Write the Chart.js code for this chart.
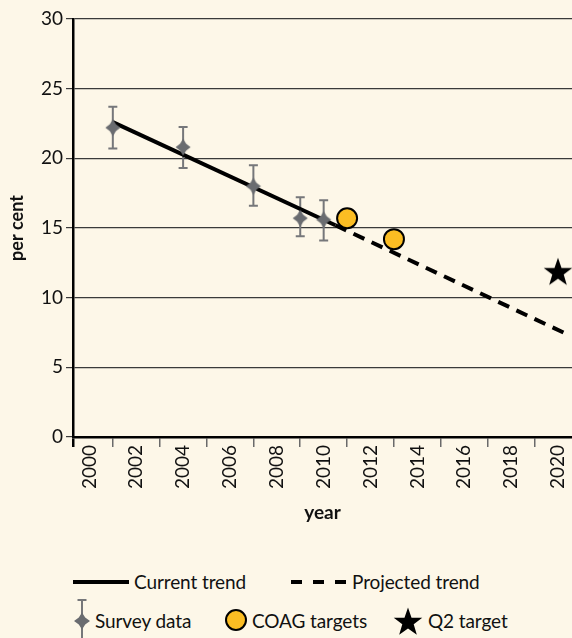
<!DOCTYPE html>
<html>
<head>
<meta charset="utf-8">
<script src="https://cdn.jsdelivr.net/npm/chart.js@4.4.0/dist/chart.umd.min.js"></script>
<style>
  body { margin: 0; background: #fdf7e8; font-family: Lato, Roboto, sans-serif; }
  #wrap { position: relative; width: 572px; height: 638px; overflow: hidden; }
  #chartBox { position: absolute; left: 0; top: 0; width: 572px; height: 540px; }
  .lg { position: absolute; font-size: 19px; line-height: 24px; color: #111; white-space: nowrap; letter-spacing: -0.1px; }
  .ic { position: absolute; overflow: visible; }
</style>
</head>
<body>
<div id="wrap">
  <div id="chartBox"><canvas id="chart"></canvas></div>

  <!-- legend -->
  <div class="ic" style="left:73px; top:580px; width:56px; height:4px; background:#000;"></div>
  <span class="lg" style="left:134px; top:570px;">Current trend</span>
  <svg class="ic" style="left:291px; top:577px;" width="57" height="10">
    <line x1="0" y1="5" x2="56" y2="5" stroke="#000" stroke-width="4" stroke-dasharray="11 11"/>
  </svg>
  <span class="lg" style="left:352px; top:570px;">Projected trend</span>

  <svg class="ic" style="left:72px; top:598px;" width="20" height="40" id="legendSurvey"></svg>
  <span class="lg" style="left:95px; top:609px;">Survey data</span>
  <svg class="ic" style="left:224px; top:608px;" width="24" height="24">
    <circle cx="12" cy="12" r="10" fill="#fbbd23" stroke="#000" stroke-width="2"/>
  </svg>
  <span class="lg" style="left:252px; top:609px;">COAG targets</span>
  <svg class="ic" style="left:393px; top:606px;" width="30" height="30" id="legendStar"></svg>
  <span class="lg" style="left:428px; top:609px;">Q2 target</span>
</div>

<script>
// AXES
const years = [2000, 2001, 2002, 2003, 2004, 2005, 2006, 2007, 2008, 2009, 2010,
               2011, 2012, 2013, 2014, 2015, 2016, 2017, 2018, 2019, 2020];
const xMin = 1999.3, xMax = 2020.6;
const yTicks = [0, 5, 10, 15, 20, 25, 30];

// SURVEY DATA (with error bars)
const surveyYears = [2001, 2004, 2007, 2009, 2010];
const surveyValues = [22.2, 20.8, 18.0, 15.7, 15.6];
const surveyLow = [20.7, 19.3, 16.6, 14.4, 14.1];
const surveyHigh = [23.7, 22.25, 19.5, 17.2, 17.0];

// TRENDS
const currentYears = [2001, 2010.5];
const currentValues = [22.6, 15.2];
const projectedYears = [2010.5, 2020.3];
const projectedValues = [15.2, 7.45];

// TARGETS
const coagYears = [2011, 2013];
const coagValues = [15.7, 14.2];
const q2Years = [2020];
const q2Values = [11.9];

const pts = (xs, ys) => xs.map((x, i) => ({ x, y: ys[i] }));

function starPath(cx, cy, R, r) {
    const p = [];
    for (let i = 0; i < 10; i++) {
        const a = -Math.PI / 2 + i * Math.PI / 5;
        const rad = i % 2 ? r : R;
        p.push([cx + rad * Math.cos(a), cy + rad * Math.sin(a)]);
    }
    return p;
}

// slightly concave diamond, like the survey markers
function diamondPath(cx, cy, w, h) {
    const k = 0.4;
    return [[cx, cy - h], [cx + w * k, cy - h * k], [cx + w, cy], [cx + w * k, cy + h * k],
            [cx, cy + h], [cx - w * k, cy + h * k], [cx - w, cy], [cx - w * k, cy - h * k]];
}

function shapeCanvas(size, path, color) {
    const c = document.createElement("canvas");
    c.width = c.height = size;
    const g = c.getContext("2d");
    g.beginPath();
    path.forEach(([x, y]) => g.lineTo(x, y));
    g.closePath();
    g.fillStyle = color;
    g.fill();
    return c;
}

const toPoints = p => p.map(q => q.join(",")).join(" ");

// legend icons
document.getElementById("legendStar").innerHTML =
    `<polygon points="${toPoints(starPath(15, 16.5, 15, 6))}" fill="#000"/>`;
document.getElementById("legendSurvey").innerHTML =
    `<line x1="10" y1="2" x2="10" y2="40" stroke="#76777a" stroke-width="2"/>
     <line x1="5.5" y1="2" x2="14.5" y2="2" stroke="#76777a" stroke-width="2"/>
     <polygon points="${toPoints(diamondPath(10, 23, 8, 8.5))}" fill="#6a6c70"/>`;

// ERROR BARS
const errorBars = {
    id: "errorBars",
    beforeDatasetsDraw(chart) {
        const { ctx, scales: { x, y } } = chart;
        ctx.save();
        ctx.strokeStyle = "#76777a";
        ctx.lineWidth = 2;
        surveyYears.forEach((yr, i) => {
            const px = x.getPixelForValue(yr);
            const top = y.getPixelForValue(surveyHigh[i]);
            const bot = y.getPixelForValue(surveyLow[i]);
            ctx.beginPath();
            ctx.moveTo(px, top); ctx.lineTo(px, bot);
            ctx.moveTo(px - 4.5, top); ctx.lineTo(px + 4.5, top);
            ctx.moveTo(px - 4.5, bot); ctx.lineTo(px + 4.5, bot);
            ctx.stroke();
        });
        ctx.restore();
    }
};

const chart = new Chart(document.getElementById("chart"), {
    type: "scatter",
    data: {
        datasets: [
            { label: "Current trend", data: pts(currentYears, currentValues), showLine: true,
              borderColor: "#000", borderWidth: 4, pointRadius: 0, order: 4 },
            { label: "Projected trend", data: pts(projectedYears, projectedValues), showLine: true,
              borderColor: "#000", borderWidth: 4, borderDash: [12, 8], pointRadius: 0, order: 3 },
            { label: "Survey data", data: pts(surveyYears, surveyValues),
              pointStyle: shapeCanvas(18, diamondPath(9, 9, 7.5, 8.5), "#6a6c70"),
              pointRadius: 9, order: 2 },
            { label: "COAG targets", data: pts(coagYears, coagValues), pointStyle: "circle",
              pointRadius: 10, backgroundColor: "#fbbd23", borderColor: "#000", borderWidth: 2, order: 1 },
            { label: "Q2 target", data: pts(q2Years, q2Values),
              pointStyle: shapeCanvas(30, starPath(15, 16.5, 15, 6), "#000"),
              pointRadius: 15, order: 0 }
        ]
    },
    options: {
        responsive: true,
        maintainAspectRatio: false,
        animation: false,
        layout: { padding: { top: 19, right: 0, left: 0, bottom: 0 } },
        plugins: { legend: { display: false }, tooltip: { enabled: false } },
        scales: {
            x: {
                type: "linear", min: xMin, max: xMax,
                afterBuildTicks: s => { s.ticks = [xMin, ...years].map(v => ({ value: v })); },
                afterFit: s => { s.height = 103; s.paddingLeft = 0; s.paddingRight = 0; },
                ticks: {
                    autoSkip: false, minRotation: 90, maxRotation: 90, padding: -2,
                    color: "#111", font: { family: "Lato", size: 19 },
                    callback: v => (Number.isInteger(v) && v % 2 === 0) ? String(v) : ""
                },
                grid: {
                    drawOnChartArea: false, tickLength: 10,
                    color: c => !c.tick ? "#666" : c.tick.value === xMin ? "#000" : (c.tick.value % 2 === 1 ? "#6a6a6a" : "rgba(0,0,0,0)"),
                    lineWidth: c => (c.tick && c.tick.value === xMin) ? 2.5 : 1.5
                },
                border: { color: "#000", width: 2.5 },
                title: { display: true, text: "year", color: "#111",
                         font: { family: "Lato", size: 19, weight: "bold" }, padding: { top: 0, bottom: 16 } }
            },
            y: {
                min: 0, max: 30,
                afterBuildTicks: s => { s.ticks = yTicks.map(v => ({ value: v })); },
                afterFit: s => { s.width = 73; },
                ticks: { color: "#111", font: { family: "Lato", size: 19 }, padding: 3 },
                grid: { color: "#3a3a3a", lineWidth: 1.2, tickLength: 7 },
                border: { color: "#000", width: 2.5 },
                title: { display: true, text: "per cent", color: "#111",
                         font: { family: "Lato", size: 18, weight: "bold" }, padding: { top: 6, bottom: 0 } }
            }
        }
    },
    plugins: [errorBars]
});

// Chart.js keeps some room on the right for the rotated labels; widen the
// canvas (clipped by #wrap) until the plot area reaches the page edge
const box = document.getElementById("chartBox");
let boxWidth = 572;
for (let k = 0; k < 4; k++) {
    const gap = 572 - chart.chartArea.right;
    if (Math.abs(gap) < 0.5) break;
    boxWidth += gap;
    box.style.width = boxWidth + "px";
    chart.resize(boxWidth, 540);
}
</script>
</body>
</html>
